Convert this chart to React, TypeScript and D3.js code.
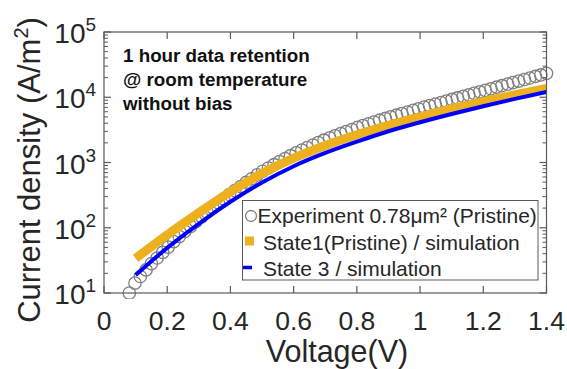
import React from 'react';
import * as d3 from 'd3';

const expVoltage = [
  0.080, 0.098, 0.115, 0.133, 0.150, 0.168, 0.186, 0.203, 0.221, 0.238,
  0.256, 0.274, 0.291, 0.309, 0.326, 0.344, 0.362, 0.379, 0.397, 0.414,
  0.432, 0.450, 0.467, 0.485, 0.502, 0.520, 0.538, 0.555, 0.573, 0.590,
  0.608, 0.626, 0.643, 0.661, 0.678, 0.696, 0.714, 0.731, 0.749, 0.766,
  0.784, 0.802, 0.819, 0.837, 0.854, 0.872, 0.890, 0.907, 0.925, 0.942,
  0.960, 0.978, 0.995, 1.013, 1.030, 1.048, 1.066, 1.083, 1.101, 1.118,
  1.136, 1.154, 1.171, 1.189, 1.206, 1.224, 1.242, 1.259, 1.277, 1.294,
  1.312, 1.330, 1.347, 1.365, 1.382, 1.400,
];
const expCurrent = [
  10.0, 14.2, 17.9, 22.6, 28.2, 34.4, 42.0, 50.6, 61.2, 73.3,
  88.1, 105, 124, 147, 173, 204, 240, 277, 323, 371,
  429, 495, 564, 647, 734, 824, 925, 1030, 1148, 1271,
  1407, 1549, 1694, 1854, 2014, 2198, 2382, 2564, 2773, 2979,
  3206, 3451, 3673, 3926, 4178, 4446, 4732, 5012, 5309, 5610,
  5943, 6295, 6653, 7047, 7430, 7852, 8299, 8750, 9247, 9750,
  10300, 10890, 11480, 12110, 12760, 13490, 14260, 15030, 15890, 16750,
  17700, 18710, 19720, 20840, 21980, 23230,
];
const simVoltage = [0.1, 0.2, 0.3, 0.4, 0.5, 0.6, 0.7, 0.8, 0.9, 1.0, 1.1, 1.2, 1.3, 1.4];
const state1Current = [34, 78, 170, 356, 678, 1164, 1824, 2667, 3724, 5023, 6622, 8531, 10864, 13677];
const state3Current = [18.8, 49.2, 115, 250, 493, 877, 1400, 2084, 3013, 4140, 5546, 7278, 9441, 12078];

const xTicks = [0, 0.2, 0.4, 0.6, 0.8, 1.0, 1.2, 1.4];
const xTickLabels = ['0', '0.2', '0.4', '0.6', '0.8', '1', '1.2', '1.4'];
const yDecades = [10, 100, 1000, 10000, 100000];
const yExponents = ['1', '2', '3', '4', '5'];
const annotationLines = ['1 hour data retention', '@ room temperature', 'without bias'];
const legendLabels = ['Experiment 0.78μm² (Pristine)', 'State1(Pristine) / simulation', 'State 3 / simulation'];

const W = 567;
const H = 369;
const FONT = '"Liberation Sans", Arial, Helvetica, sans-serif';
const AXIS = '#5a5a5a';
const TEXT = '#262626';
const ORANGE = '#EDB120';
const BLUE = '#0000FF';
const GRAY = '#808080';

export default function App() {
  const x = d3.scaleLinear().domain([0, 1.4]).range([104, 546.5]);
  const y = d3.scaleLog().domain([10, 100000]).range([293, 32]);
  const [x0, x1] = x.range();
  const [y0, y1] = y.range();

  const line = d3
    .line<[number, number]>()
    .x((d) => x(d[0]))
    .y((d) => y(d[1]))
    .curve(d3.curveMonotoneX);

  const s1 = line(simVoltage.map((v, i) => [v, state1Current[i]] as [number, number])) || '';
  const s3 = line(simVoltage.map((v, i) => [v, state3Current[i]] as [number, number])) || '';

  const minorTicks: number[] = [];
  for (let d = 0; d < yDecades.length - 1; d++) {
    for (let k = 2; k <= 9; k++) minorTicks.push(yDecades[d] * k);
  }

  return (
    <svg
      width={W}
      height={H}
      viewBox={`0 0 ${W} ${H}`}
      style={{ position: 'absolute', left: 0, top: 0, background: '#fff' }}
      fontFamily={FONT}
    >
      <rect x={0} y={0} width={W} height={H} fill="#fff" />
      <defs>
        <clipPath id="plotclip">
          <rect x={x0} y={y1} width={x1 - x0 + 8} height={y0 - y1 + 6} />
        </clipPath>
      </defs>

      {/* data */}
      <g clipPath="url(#plotclip)">
        {expVoltage.map((v, i) => (
          <circle key={i} cx={x(v)} cy={y(expCurrent[i])} r={6.2} fill="none" stroke={GRAY} strokeWidth={1.3} />
        ))}
        <path d={s1} fill="none" stroke={ORANGE} strokeWidth={9} />
        <path d={s3} fill="none" stroke={BLUE} strokeWidth={4} />
      </g>

      {/* axes box */}
      <rect x={x0} y={y1} width={x1 - x0} height={y0 - y1} fill="none" stroke={AXIS} strokeWidth={1.2} />

      {/* x ticks */}
      {xTicks.map((t, i) => (
        <g key={i}>
          <line x1={x(t)} x2={x(t)} y1={y0} y2={y0 - 7} stroke={AXIS} strokeWidth={1.2} />
          <line x1={x(t)} x2={x(t)} y1={y1} y2={y1 + 7} stroke={AXIS} strokeWidth={1.2} />
          <text x={x(t)} y={330} textAnchor="middle" fontSize={26.5} fill={TEXT}>
            {xTickLabels[i]}
          </text>
        </g>
      ))}

      {/* y ticks */}
      {yDecades.map((t, i) => (
        <g key={i}>
          <line x1={x0} x2={x0 + 7} y1={y(t)} y2={y(t)} stroke={AXIS} strokeWidth={1.2} />
          <line x1={x1} x2={x1 - 7} y1={y(t)} y2={y(t)} stroke={AXIS} strokeWidth={1.2} />
          <text x={85.5} y={y(t) + 11} textAnchor="end" fontSize={28} fill={TEXT}>
            10
          </text>
          <text x={85.5} y={y(t) - 1} textAnchor="start" fontSize={19} fill={TEXT}>
            {yExponents[i]}
          </text>
        </g>
      ))}
      {minorTicks.map((t, i) => (
        <g key={i}>
          <line x1={x0} x2={x0 + 4} y1={y(t)} y2={y(t)} stroke={AXIS} strokeWidth={1} />
          <line x1={x1} x2={x1 - 4} y1={y(t)} y2={y(t)} stroke={AXIS} strokeWidth={1} />
        </g>
      ))}

      {/* axis labels */}
      <text x={337} y={362} textAnchor="middle" fontSize={30.5} fill={TEXT}>
        Voltage(V)
      </text>
      <text
        transform={`translate(40, 170) rotate(-90)`}
        textAnchor="middle"
        fontSize={31}
        fill={TEXT}
      >
        Current density (A/m
        <tspan fontSize={20} dy={-12}>2</tspan>
        <tspan dy={12}>)</tspan>
      </text>

      {/* annotation */}
      {annotationLines.map((s, i) => (
        <text key={i} x={123} y={62 + i * 24} fontSize={18.8} fontWeight="bold" fill="#111">
          {s}
        </text>
      ))}

      {/* legend */}
      <rect x={242.5} y={200.5} width={295.5} height={79.5} fill="#fff" stroke={AXIS} strokeWidth={1} />
      <circle cx={251} cy={216} r={5.5} fill="none" stroke={GRAY} strokeWidth={1.3} />
      <rect x={245} y={236.5} width={9} height={9} fill={ORANGE} />
      <line x1={243} x2={252} y1={267.5} y2={267.5} stroke={BLUE} strokeWidth={3.5} />
      <text x={257.5} y={223} fontSize={21} fill={TEXT}>
        {legendLabels[0]}
      </text>
      <text x={263} y={249.5} fontSize={21} fill={TEXT}>
        {legendLabels[1]}
      </text>
      <text x={263} y={276} fontSize={21} fill={TEXT}>
        {legendLabels[2]}
      </text>
    </svg>
  );
}
